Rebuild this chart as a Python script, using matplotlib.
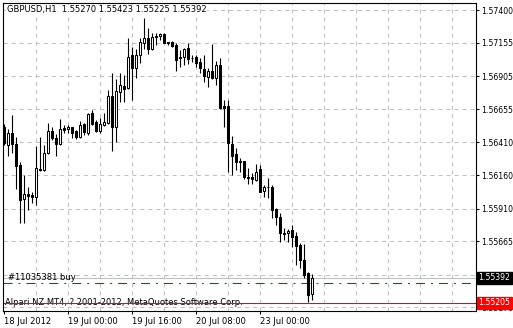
import matplotlib
matplotlib.use('Agg')
import numpy as np
import matplotlib.pyplot as plt
import matplotlib.transforms as mtransforms

plt.rcParams['font.family'] = 'DejaVu Sans'
plt.rcParams['lines.scale_dashes'] = False

# GBPUSD H1 bars, 18 Jul 2012 08:00 .. 23 Jul 2012 13:00
opens = [1.56520, 1.56388, 1.56480, 1.56395, 1.56238, 1.55980, 1.56018, 1.56013, 1.55995, 1.56208,
         1.56200, 1.56325, 1.56493, 1.56438, 1.56395, 1.56513, 1.56508, 1.56520, 1.56493, 1.56445,
         1.56543, 1.56475, 1.56625, 1.56562, 1.56495, 1.56538, 1.56555, 1.56755, 1.56525, 1.56787,
         1.56830, 1.56813, 1.57063, 1.56963, 1.57063, 1.57155, 1.57188, 1.57105, 1.57207, 1.57205,
         1.57218, 1.57158, 1.57162, 1.57138, 1.57050, 1.57045, 1.57113, 1.57042, 1.57050, 1.57008,
         1.56955, 1.56900, 1.56943, 1.56892, 1.56988, 1.56680, 1.56680, 1.56395, 1.56320, 1.56268,
         1.56268, 1.56150, 1.56150, 1.56125, 1.56205, 1.56045, 1.56075, 1.56075, 1.55905, 1.55845,
         1.55725, 1.55725, 1.55750, 1.55705, 1.55638, 1.55525, 1.55425, 1.55270]
highs = [1.56545, 1.56505, 1.56613, 1.56450, 1.56262, 1.56163, 1.56075, 1.56037, 1.56380, 1.56450,
         1.56388, 1.56550, 1.56525, 1.56468, 1.56580, 1.56538, 1.56538, 1.56525, 1.56500, 1.56570,
         1.56550, 1.56630, 1.56650, 1.56575, 1.56588, 1.56625, 1.56800, 1.56925, 1.56880, 1.56925,
         1.56915, 1.57188, 1.57125, 1.57105, 1.57188, 1.57338, 1.57263, 1.57225, 1.57230, 1.57230,
         1.57230, 1.57162, 1.57170, 1.57150, 1.57100, 1.57113, 1.57155, 1.57063, 1.57063, 1.57038,
         1.57063, 1.56963, 1.57145, 1.57018, 1.57038, 1.56725, 1.56725, 1.56455, 1.56363, 1.56288,
         1.56270, 1.56213, 1.56175, 1.56245, 1.56238, 1.56088, 1.56138, 1.56088, 1.55913, 1.55875,
         1.55763, 1.55755, 1.55788, 1.55737, 1.55650, 1.55645, 1.55437, 1.55423]
lows = [1.56388, 1.56307, 1.56325, 1.56055, 1.55800, 1.55805, 1.55900, 1.55950, 1.55938, 1.56193,
        1.56195, 1.56318, 1.56425, 1.56307, 1.56388, 1.56475, 1.56478, 1.56438, 1.56430, 1.56438,
        1.56463, 1.56463, 1.56538, 1.56487, 1.56475, 1.56530, 1.56545, 1.56345, 1.56412, 1.56712,
        1.56712, 1.56805, 1.56725, 1.56892, 1.57000, 1.57105, 1.57068, 1.57100, 1.57138, 1.57175,
        1.57150, 1.57138, 1.57125, 1.56945, 1.56975, 1.56988, 1.56995, 1.57012, 1.56975, 1.56925,
        1.56862, 1.56825, 1.56882, 1.56838, 1.56658, 1.56525, 1.56185, 1.56163, 1.56200, 1.56187,
        1.56130, 1.56095, 1.56095, 1.56120, 1.56035, 1.56000, 1.55988, 1.55838, 1.55788, 1.55662,
        1.55675, 1.55662, 1.55625, 1.55488, 1.55463, 1.55388, 1.55210, 1.55225]
closes = [1.56400, 1.56480, 1.56395, 1.56232, 1.55975, 1.56018, 1.56005, 1.55995, 1.56213, 1.56200,
          1.56325, 1.56493, 1.56438, 1.56395, 1.56505, 1.56500, 1.56520, 1.56480, 1.56445, 1.56538,
          1.56483, 1.56620, 1.56545, 1.56495, 1.56543, 1.56558, 1.56755, 1.56525, 1.56793, 1.56838,
          1.56805, 1.57045, 1.56963, 1.57063, 1.57158, 1.57188, 1.57105, 1.57195, 1.57200, 1.57218,
          1.57155, 1.57150, 1.57132, 1.57025, 1.57038, 1.57105, 1.57030, 1.57038, 1.57005, 1.56963,
          1.56905, 1.56943, 1.56892, 1.56988, 1.56663, 1.56667, 1.56400, 1.56305, 1.56262, 1.56262,
          1.56145, 1.56138, 1.56130, 1.56185, 1.56037, 1.56075, 1.56070, 1.55900, 1.55850, 1.55725,
          1.55718, 1.55743, 1.55700, 1.55632, 1.55525, 1.55413, 1.55263, 1.55392]

chart_title = 'GBPUSD,H1  1.55270 1.55423 1.55225 1.55392'
bid_price = 1.55392
order_price = 1.55350
stop_price = 1.55205
order_label = '#11035381 buy'
copyright_label = 'Alpari NZ MT4, ? 2001-2012, MetaQuotes Software Corp.'

price_ticks = [1.57400, 1.57155, 1.56905, 1.56655, 1.56410, 1.56160, 1.55910, 1.55665, 1.55415, 1.55170]
# 1.55415 sits under the bid price box, so its label is not shown
price_tick_labels = ['1.57400', '1.57155', '1.56905', '1.56655', '1.56410', '1.56160', '1.55910',
                     '1.55665', '', '1.55170']
time_tick_bars = [0, 16, 32, 48, 64]
time_tick_labels = ['18 Jul 2012', '19 Jul 00:00', '19 Jul 16:00', '20 Jul 08:00', '23 Jul 00:00']

W, H = 513, 328
fig = plt.figure(figsize=(W / 100, H / 100), dpi=100)
ax = fig.add_axes([3 / W, (H - 311) / H, 473 / W, 308 / H])

grid_col = '#c0c0c0'
fsize = 6
ysize = 5.6

o = np.array(opens)
h = np.array(highs)
l = np.array(lows)
c = np.array(closes)
x = np.arange(len(o))
up = c >= o

# grid
for gx in range(8, 118, 8):
    ax.axvline(gx, color=grid_col, lw=0.75, dashes=(2.9, 2.9), zorder=0)
for gy in price_ticks:
    ax.axhline(gy, color=grid_col, lw=0.75, dashes=(2.9, 2.9), zorder=0)

# order / price lines
ax.axhline(bid_price, color='#c0c0c0', lw=0.8, zorder=1)
ax.axhline(order_price, color='#007000', lw=0.8, dashes=(6.5, 4.3, 1.4, 4.3), zorder=1)
ax.axhline(stop_price, color='#ff0000', lw=0.8, zorder=1)

# candles
ax.vlines(x, l, h, color='black', lw=0.8, zorder=2)
bottom = np.minimum(o, c)
height = np.abs(c - o)
ax.bar(x[up], height[up], bottom=bottom[up], width=0.5, color='white',
       edgecolor='black', linewidth=0.75, zorder=3)
ax.bar(x[~up], height[~up], bottom=bottom[~up], width=0.5, color='black',
       edgecolor='black', linewidth=0.75, zorder=3)

ax.set_xlim(-0.125, 118.125)
ax.set_ylim(1.551425, 1.574525)

for sp in ax.spines.values():
    sp.set_color('black')
    sp.set_linewidth(0.8)

ax.yaxis.tick_right()
ax.set_yticks(price_ticks)
ax.set_yticklabels(price_tick_labels)
ax.set_xticks(time_tick_bars)
ax.set_xticklabels(time_tick_labels)
for lbl in ax.get_xticklabels():
    lbl.set_ha('left')
ax.tick_params(axis='y', length=2.5, width=0.8, pad=1.2, labelsize=ysize, colors='black')
ax.tick_params(axis='x', length=2.5, width=0.8, pad=1.5, labelsize=fsize, colors='black')

# texts
tr = mtransforms.blended_transform_factory(ax.transAxes, ax.transData)
ax.text(0.008, 0.978, chart_title, transform=ax.transAxes, fontsize=fsize, va='center', ha='left',
        bbox=dict(facecolor='white', edgecolor='none', pad=0.5), zorder=5)
ax.text(0.011, order_price + 0.00042, order_label, fontsize=fsize, va='center', ha='left',
        transform=tr, zorder=5)
ax.text(0.005, stop_price + 0.00003, copyright_label, fontsize=fsize, va='center', ha='left',
        transform=tr, zorder=0.5)

# price labels on the axis
ax.text(1.005, bid_price, '1.55392', transform=tr, fontsize=ysize, color='white', va='center',
        ha='left', clip_on=False, zorder=6,
        bbox=dict(facecolor='black', edgecolor='black', pad=1.0))
ax.text(1.005, stop_price, '1.55205', transform=tr, fontsize=ysize, color='white', va='center',
        ha='left', clip_on=False, zorder=6,
        bbox=dict(facecolor='#ff0000', edgecolor='#ff0000', pad=1.0))

fig.savefig('out.png', dpi=100, facecolor='white')
